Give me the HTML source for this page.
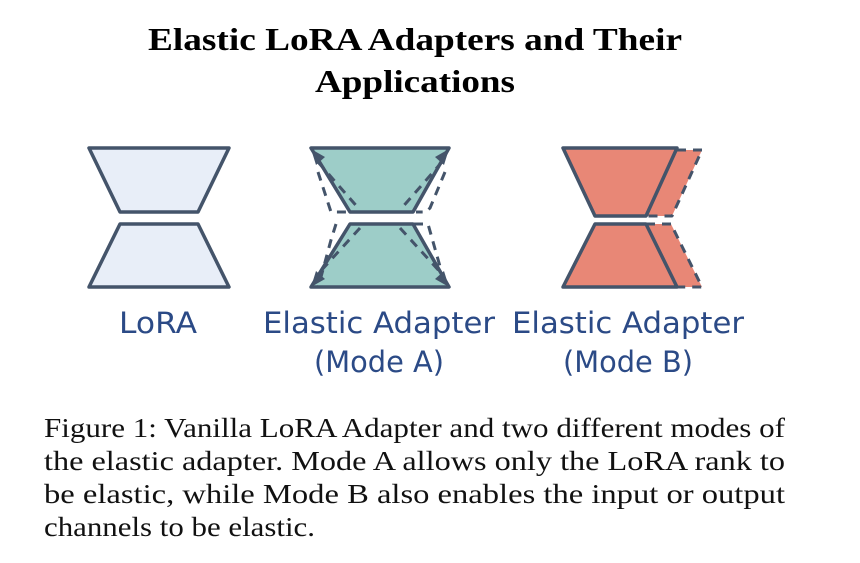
<!DOCTYPE html>
<html><head><meta charset="utf-8"><style>
html,body{margin:0;padding:0;background:#fff;}
svg{display:block;}
.cap{font-family:"Liberation Serif",serif;font-size:27px;fill:#111;}
.lab{font-family:"DejaVu Sans","Liberation Sans",sans-serif;font-size:29px;fill:#2b4a86;}
</style></head><body>
<svg width="860" height="563" viewBox="0 0 860 563" xmlns="http://www.w3.org/2000/svg">
<text x="415" y="50" text-anchor="middle" font-family="Liberation Serif, serif" font-weight="bold" font-size="32" textLength="534" lengthAdjust="spacingAndGlyphs">Elastic LoRA Adapters and Their</text>
<text x="415" y="92" text-anchor="middle" font-family="Liberation Serif, serif" font-weight="bold" font-size="32" textLength="200" lengthAdjust="spacingAndGlyphs">Applications</text>

<g stroke="#44546a" stroke-width="3.5" stroke-linejoin="round">
<!-- LoRA -->
<polygon points="89,148 229,148 198,212 120,212" fill="#e8eef8"/>
<polygon points="120,224 198,224 229,287 89,287" fill="#e8eef8"/>
<!-- Mode A -->
<polygon points="311,148 449,148 413,212 350,212" fill="#9dcdc8"/>
<polygon points="350,224 413,224 449,287 311,287" fill="#9dcdc8"/>
<g fill="none" stroke-dasharray="9,7" stroke-width="3">
<line x1="318" y1="162" x2="360" y2="210"/>
<line x1="442" y1="162" x2="400" y2="210"/>
<line x1="360" y1="228" x2="318" y2="274"/>
<line x1="400" y1="228" x2="442" y2="274"/>
<polyline points="318,172 331,212 346,212"/>
<polyline points="445,172 430,208 426,212 416,212"/>
<polyline points="336,224 331,240 318,288"/>
<polyline points="414,224 428,224 441,270"/>
</g>
<g fill="#44546a" stroke="none">
<polygon points="311,149 325,157 316,165"/>
<polygon points="449,149 444,165 435,157"/>
<polygon points="311,287 316,271 325,279"/>
<polygon points="449,287 435,279 444,271"/>
</g>
<!-- Mode B -->
<polygon points="677,150 702,150 672,216 646,216" fill="#e88776" stroke="none"/>
<polygon points="646,224 671,224 702,287 677,287" fill="#e88776" stroke="none"/>
<polygon points="563,148 677,148 646,216 595,216" fill="#e88776"/>
<polygon points="595,224 646,224 677,287 563,287" fill="#e88776"/>
<g fill="none" stroke-dasharray="9,7" stroke-width="3">
<polyline points="677,150 702,150 672,216 646,216"/>
<polyline points="646,224 671,224 702,287 677,287"/>
</g>
</g>

<text class="lab" x="158" y="333" text-anchor="middle" textLength="78" lengthAdjust="spacingAndGlyphs">LoRA</text>
<text class="lab" x="379" y="333" text-anchor="middle" textLength="232" lengthAdjust="spacingAndGlyphs">Elastic Adapter</text>
<text class="lab" x="379" y="372" text-anchor="middle" textLength="130" lengthAdjust="spacingAndGlyphs">(Mode A)</text>
<text class="lab" x="628" y="333" text-anchor="middle" textLength="232" lengthAdjust="spacingAndGlyphs">Elastic Adapter</text>
<text class="lab" x="628" y="372" text-anchor="middle" textLength="130" lengthAdjust="spacingAndGlyphs">(Mode B)</text>

<text class="cap" x="44" y="437" textLength="741" lengthAdjust="spacingAndGlyphs">Figure 1: Vanilla LoRA Adapter and two different modes of</text>
<text class="cap" x="44" y="470" textLength="741" lengthAdjust="spacingAndGlyphs">the elastic adapter. Mode A allows only the LoRA rank to</text>
<text class="cap" x="44" y="503" textLength="741" lengthAdjust="spacingAndGlyphs">be elastic, while Mode B also enables the input or output</text>
<text class="cap" x="44" y="536" textLength="271" lengthAdjust="spacingAndGlyphs">channels to be elastic.</text>
</svg>
</body></html>
